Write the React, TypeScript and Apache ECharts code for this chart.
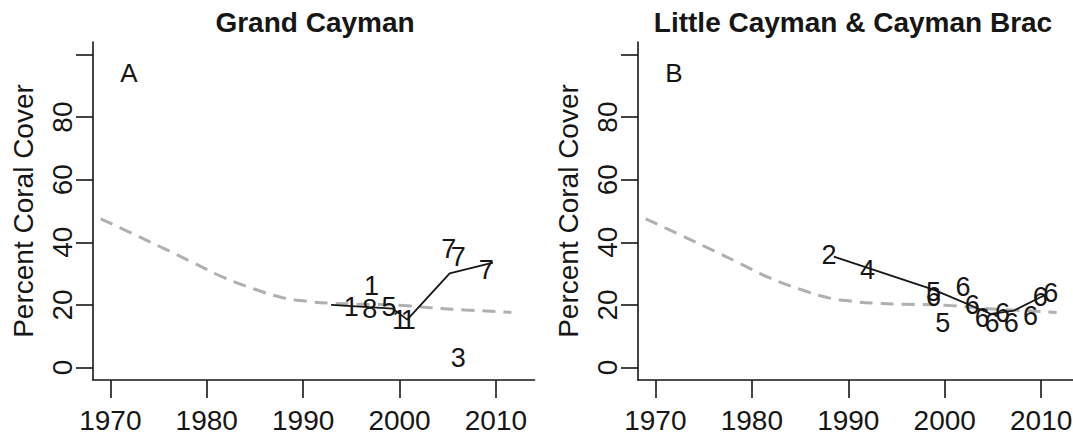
import React, { useEffect, useRef } from "react";
import * as echarts from "echarts";

const FONT = '"Liberation Sans", Arial, Helvetica, sans-serif';
const INK = "#161616";

const xTickValues = [1970, 1980, 1990, 2000, 2010];
const yTickValues = [0, 20, 40, 60, 80, 100];
const yLabelValues = [0, 20, 40, 60, 80];

// Regional trend (grey dashed), same in both panels
const trendYears = [1969.0, 1972.5, 1975.7, 1978.6, 1981.8, 1985.0, 1987.9, 1990.0, 1992.9, 1996.1, 2000.0, 2003.2, 2006.8, 2011.6];
const trendCover = [47.5, 42.5, 37.8, 33.5, 28.7, 25.0, 22.3, 21.3, 20.5, 20.2, 19.9, 19.1, 18.4, 17.6];

// Panel A: Grand Cayman — study numbers plotted as text
const grandYears = [1997.1, 1995.0, 1996.9, 1998.9, 2000.0, 2000.9, 2005.1, 2006.1, 2009.0, 2006.1];
const grandCover = [26.1, 19.2, 18.7, 19.4, 15.2, 15.2, 37.8, 35.2, 31.3, 2.9];
const grandStudy = ["1", "1", "8", "5", "1", "1", "7", "7", "7", "3"];

const grandFitYears = [1992.9, 1999.3, 2000.8, 2005.2, 2009.7];
const grandFitCover = [20.0, 18.8, 15.3, 30.1, 33.5];

// Panel B: Little Cayman & Cayman Brac
const littleYears = [1988.0, 1992.0, 1998.85, 1998.85, 1999.8, 2001.9, 2002.85, 2003.9, 2004.9, 2006.0, 2006.9, 2008.9, 2009.9, 2011.0];
const littleCover = [36.0, 31.2, 24.2, 22.6, 14.1, 25.6, 20.0, 15.7, 14.1, 17.3, 14.1, 16.3, 22.6, 23.7];
const littleStudy = ["2", "4", "5", "6", "5", "6", "6", "6", "6", "6", "6", "6", "6", "6"];

const littleFitYears = [1988.5, 1998.9, 2004.8, 2007.2, 2010.6];
const littleFitCover = [35.4, 24.8, 17.1, 18.2, 23.5];

const pairs = (xs: number[], ys: number[]) => xs.map((x, i) => [x, ys[i]]);

function makeXAxis(gridIndex: number, min: number, max: number) {
  return {
    type: "value",
    gridIndex,
    min,
    max,
    axisLine: { show: true, onZero: false, lineStyle: { color: INK, width: 1.6 } },
    axisTick: { show: true, inside: false, length: 18, customValues: xTickValues, lineStyle: { color: INK, width: 1.6 } },
    axisLabel: {
      show: true,
      customValues: xTickValues,
      formatter: (v: number) => String(Math.round(v)),
      fontSize: 28,
      fontFamily: FONT,
      color: INK,
      margin: 26,
    },
    splitLine: { show: false },
  };
}

function makeYAxis(gridIndex: number) {
  return {
    type: "value",
    gridIndex,
    min: -4,
    max: 104,
    name: "Percent Coral Cover",
    nameLocation: "middle",
    nameGap: 56,
    nameRotate: 90,
    nameTextStyle: { fontSize: 28, fontFamily: FONT, color: INK },
    axisLine: { show: true, onZero: false, lineStyle: { color: INK, width: 1.6 } },
    axisTick: { show: true, inside: false, length: 17, customValues: yTickValues, lineStyle: { color: INK, width: 1.6 } },
    axisLabel: {
      show: true,
      customValues: yLabelValues,
      formatter: (v: number) => String(Math.round(v)),
      rotate: 90,
      fontSize: 28,
      fontFamily: FONT,
      color: INK,
      margin: 17,
    },
    splitLine: { show: false },
  };
}

function textSeries(idx: number, xs: number[], ys: number[], labels: string[]) {
  return {
    type: "custom",
    xAxisIndex: idx,
    yAxisIndex: idx,
    data: pairs(xs, ys),
    encode: { x: 0, y: 1 },
    z: 5,
    renderItem: (params: any, api: any) => {
      const p = api.coord([api.value(0), api.value(1)]);
      return {
        type: "text",
        x: p[0],
        y: p[1],
        style: {
          text: labels[params.dataIndex],
          fontSize: 27,
          fontFamily: FONT,
          fill: INK,
          align: "center",
          verticalAlign: "middle",
        },
      };
    },
  };
}

function trendSeries(idx: number) {
  return {
    type: "line",
    xAxisIndex: idx,
    yAxisIndex: idx,
    data: pairs(trendYears, trendCover),
    smooth: true,
    symbol: "none",
    z: 2,
    lineStyle: { color: "#b0b0b0", width: 3, type: [13, 8] },
  };
}

function fitSeries(idx: number, xs: number[], ys: number[]) {
  return {
    type: "line",
    xAxisIndex: idx,
    yAxisIndex: idx,
    data: pairs(xs, ys),
    symbol: "none",
    z: 3,
    lineStyle: { color: INK, width: 1.8 },
  };
}

export default function App() {
  const ref = useRef<HTMLDivElement>(null);
  useEffect(() => {
    if (!ref.current) return;
    const chart = echarts.init(ref.current, undefined, { renderer: "svg" });
    chart.setOption({
      animation: false,
      backgroundColor: "#ffffff",
      grid: [
        { left: 93, top: 42, width: 441.5, height: 338, outerBoundsMode: "none", containLabel: false },
        { left: 638, top: 42, width: 435, height: 338, outerBoundsMode: "none", containLabel: false },
      ],
      xAxis: [makeXAxis(0, 1968.2, 2014.0), makeXAxis(1, 1968.2, 2013.3)],
      yAxis: [makeYAxis(0), makeYAxis(1)],
      graphic: [
        { type: "text", x: 315, y: 22, style: { text: "Grand Cayman", fontSize: 28, fontWeight: "bold", fontFamily: FONT, fill: INK, align: "center", verticalAlign: "middle" } },
        { type: "text", x: 853, y: 22, style: { text: "Little Cayman & Cayman Brac", fontSize: 28, fontWeight: "bold", fontFamily: FONT, fill: INK, align: "center", verticalAlign: "middle" } },
        { type: "text", x: 129, y: 73, style: { text: "A", fontSize: 26, fontFamily: FONT, fill: INK, align: "center", verticalAlign: "middle" } },
        { type: "text", x: 674, y: 73, style: { text: "B", fontSize: 26, fontFamily: FONT, fill: INK, align: "center", verticalAlign: "middle" } },
      ],
      series: [
        trendSeries(0),
        fitSeries(0, grandFitYears, grandFitCover),
        textSeries(0, grandYears, grandCover, grandStudy),
        trendSeries(1),
        fitSeries(1, littleFitYears, littleFitCover),
        textSeries(1, littleYears, littleCover, littleStudy),
      ],
    });
    return () => chart.dispose();
  }, []);
  return (
    <div
      ref={ref}
      style={{ position: "fixed", left: 0, top: 0, width: 1073, height: 439, background: "#fff" }}
    />
  );
}
